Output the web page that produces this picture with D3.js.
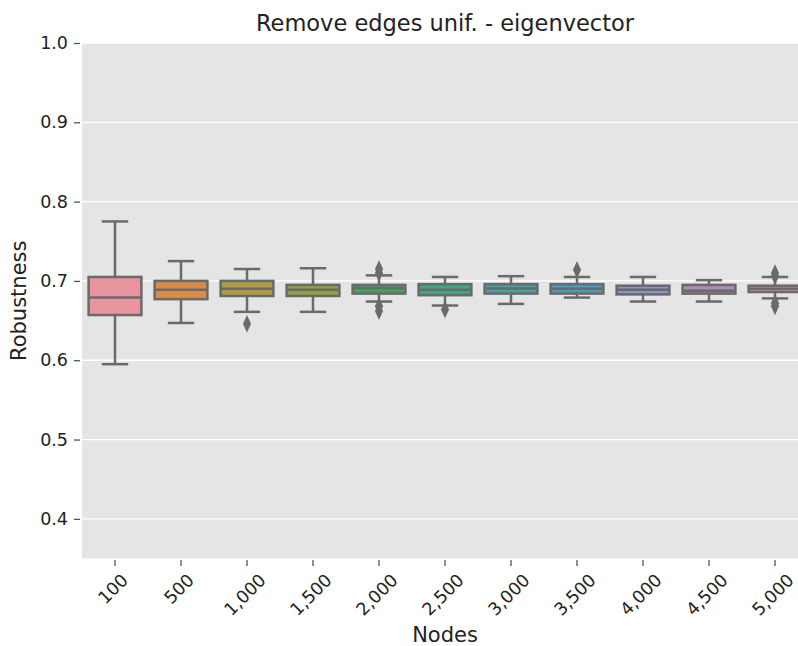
<!DOCTYPE html>
<html>
<head>
<meta charset="utf-8">
<script src="https://cdn.jsdelivr.net/npm/d3@7"></script>
<style>
  html, body { margin: 0; padding: 0; background: #ffffff; }
  svg { display: block; }
  svg text { font-family: "DejaVu Sans", sans-serif; }
</style>
</head>
<body>
<svg id="chart" width="798" height="646"></svg>
<script>
// Robustness after uniform edge removal (eigenvector centrality), per network size
const categories = ["100", "500", "1,000", "1,500", "2,000", "2,500", "3,000", "3,500", "4,000", "4,500", "5,000"];
const whiskerLow  = [0.595, 0.647, 0.661, 0.661, 0.674, 0.669, 0.671, 0.679, 0.674, 0.674, 0.678];
const q1          = [0.657, 0.677, 0.681, 0.681, 0.684, 0.682, 0.684, 0.684, 0.683, 0.684, 0.686];
const median      = [0.679, 0.689, 0.690, 0.689, 0.691, 0.689, 0.6905, 0.690, 0.689, 0.6875, 0.690];
const q3          = [0.705, 0.700, 0.700, 0.695, 0.695, 0.696, 0.696, 0.696, 0.694, 0.695, 0.694];
const whiskerHigh = [0.775, 0.725, 0.715, 0.716, 0.707, 0.705, 0.706, 0.705, 0.705, 0.701, 0.705];
const outliers    = [[], [], [0.646], [], [0.715, 0.710, 0.668, 0.662], [0.664], [], [0.714], [], [], [0.710, 0.706, 0.672, 0.668]];
const boxColors   = ["#e8949f", "#d88c48", "#ae9a42", "#8ea33d", "#3fa55b", "#41a38a", "#43a2a6", "#479dbf", "#8a95c8", "#a98dbd", "#c88ab2"];
const yTicks      = [0.4, 0.5, 0.6, 0.7, 0.8, 0.9, 1.0];

const svg = d3.select("#chart");
const margin = { left: 82, top: 43, right: 808, bottom: 558.5 };
const lineColor = "#6a6a6a";
const font = "DejaVu Sans, sans-serif";

const x = d3.scaleBand().domain(categories).range([margin.left, margin.right]).paddingInner(0).paddingOuter(0);
const y = d3.scaleLinear().domain([0.35, 1.0]).range([margin.bottom, margin.top]);

// panel background
svg.append("rect")
  .attr("x", margin.left).attr("y", margin.top)
  .attr("width", margin.right - margin.left).attr("height", margin.bottom - margin.top)
  .attr("fill", "#e5e5e5");

// horizontal grid
svg.append("g").selectAll("line").data(yTicks).join("line")
  .attr("x1", margin.left).attr("x2", margin.right)
  .attr("y1", d => y(d)).attr("y2", d => y(d))
  .attr("stroke", "#ffffff").attr("stroke-width", 1.3);

// y axis
const yAxis = svg.append("g")
  .attr("transform", `translate(${margin.left - 2},0)`)
  .call(d3.axisLeft(y).tickValues(yTicks).tickFormat(d3.format(".1f")).tickSize(6).tickPadding(6));
yAxis.attr("font-family", font).attr("font-size", 17.5);
yAxis.select(".domain").remove();
yAxis.selectAll(".tick line").attr("stroke", "#555555").attr("stroke-width", 1.3);
yAxis.selectAll(".tick text").attr("fill", "#222222");

// x axis
const xAxis = svg.append("g")
  .attr("transform", `translate(0,${margin.bottom + 1.5})`)
  .call(d3.axisBottom(x).tickSize(6).tickFormat(d => d));
xAxis.attr("font-family", font).attr("font-size", 17.5);
xAxis.select(".domain").remove();
xAxis.selectAll(".tick line").attr("stroke", "#555555").attr("stroke-width", 1.3);
xAxis.selectAll(".tick text")
  .attr("fill", "#222222")
  .attr("text-anchor", "middle")
  .attr("dy", null)
  .attr("dominant-baseline", "central")
  .each(function () {
    const t = d3.select(this);
    const w = this.getComputedTextLength();
    const h = 13;
    const cy = 12.5 + 0.354 * (w + h);
    t.attr("y", cy).attr("x", -2).attr("transform", `rotate(-45,-2,${cy})`);
  });

// boxes
const bw = x.bandwidth() * 0.8;
const capW = bw / 2;
const boxes = svg.append("g").selectAll("g").data(categories).join("g")
  .attr("transform", d => `translate(${x(d) + x.bandwidth() / 2},0)`);

boxes.append("line")
  .attr("x1", 0).attr("x2", 0)
  .attr("y1", (d, i) => y(whiskerHigh[i])).attr("y2", (d, i) => y(q3[i]))
  .attr("stroke", lineColor).attr("stroke-width", 2.5);
boxes.append("line")
  .attr("x1", 0).attr("x2", 0)
  .attr("y1", (d, i) => y(q1[i])).attr("y2", (d, i) => y(whiskerLow[i]))
  .attr("stroke", lineColor).attr("stroke-width", 2.5);
boxes.append("line")
  .attr("x1", -capW / 2).attr("x2", capW / 2)
  .attr("y1", (d, i) => y(whiskerHigh[i])).attr("y2", (d, i) => y(whiskerHigh[i]))
  .attr("stroke", lineColor).attr("stroke-width", 2.5);
boxes.append("line")
  .attr("x1", -capW / 2).attr("x2", capW / 2)
  .attr("y1", (d, i) => y(whiskerLow[i])).attr("y2", (d, i) => y(whiskerLow[i]))
  .attr("stroke", lineColor).attr("stroke-width", 2.5);
boxes.append("rect")
  .attr("x", -bw / 2).attr("width", bw)
  .attr("y", (d, i) => y(q3[i]))
  .attr("height", (d, i) => y(q1[i]) - y(q3[i]))
  .attr("fill", (d, i) => boxColors[i])
  .attr("stroke", lineColor).attr("stroke-width", 2.5);
boxes.append("line")
  .attr("x1", -bw / 2).attr("x2", bw / 2)
  .attr("y1", (d, i) => y(median[i])).attr("y2", (d, i) => y(median[i]))
  .attr("stroke", lineColor).attr("stroke-width", 2.5);

// outlier markers (diamonds)
const diamond = d3.symbol().type(d3.symbolDiamond).size(90);
boxes.each(function (d, i) {
  d3.select(this).selectAll("path.flier").data(outliers[i]).join("path")
    .attr("class", "flier")
    .attr("d", diamond)
    .attr("transform", v => `translate(0,${y(v)}) scale(0.8,1)`)
    .attr("fill", lineColor);
});

// title and axis labels
svg.append("text")
  .attr("x", (margin.left + margin.right) / 2).attr("y", 31)
  .attr("text-anchor", "middle")
  .attr("fill", "#222222")
  .style("font-size", "22.5px")
  .text("Remove edges unif. - eigenvector");

svg.append("text")
  .attr("x", (margin.left + margin.right) / 2).attr("y", 642)
  .attr("text-anchor", "middle")
  .attr("fill", "#222222")
  .style("font-size", "21px")
  .text("Nodes");

svg.append("text")
  .attr("transform", `translate(26,${(margin.top + margin.bottom) / 2}) rotate(-90)`)
  .attr("text-anchor", "middle")
  .attr("fill", "#222222")
  .style("font-size", "21px")
  .text("Robustness");
</script>
</body>
</html>
